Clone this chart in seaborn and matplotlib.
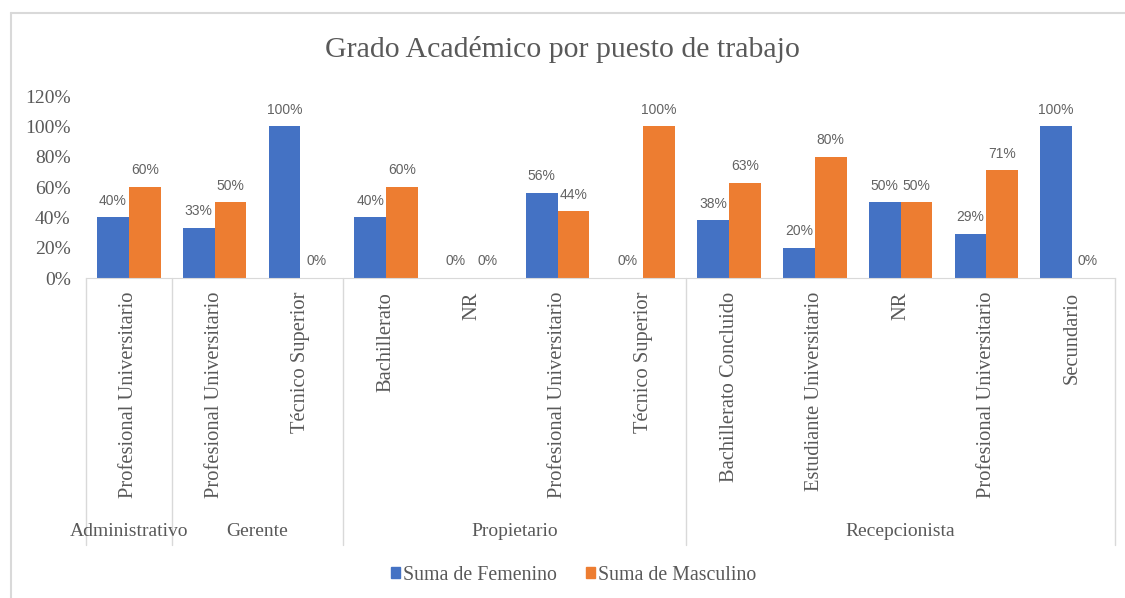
import pandas as pd
import matplotlib
matplotlib.use('Agg')
import matplotlib.pyplot as plt
import matplotlib.transforms as mtransforms
from matplotlib.lines import Line2D
from matplotlib.ticker import PercentFormatter
import seaborn as sns

# Data
puestos = ['Administrativo', 'Gerente', 'Propietario', 'Recepcionista']
grados = [
    ['Profesional Universitario'],
    ['Profesional Universitario', 'Técnico Superior'],
    ['Bachillerato', 'NR', 'Profesional Universitario', 'Técnico Superior'],
    ['Bachillerato Concluido', 'Estudiante Universitario', 'NR',
     'Profesional Universitario', 'Secundario'],
]
femenino = [0.40, 0.33, 1.00, 0.40, 0.00, 0.56, 0.00, 0.38, 0.20, 0.50, 0.29, 1.00]
masculino = [0.60, 0.50, 0.00, 0.60, 0.00, 0.44, 1.00, 0.63, 0.80, 0.50, 0.71, 0.00]
series = ['Suma de Femenino', 'Suma de Masculino']
colores = ['#4472C4', '#ED7D31']

# Build a long table with unique category keys
keys, labels = [], []
for p, gs in zip(puestos, grados):
    for g in gs:
        keys.append(p + '|' + g)
        labels.append(g)
df = pd.DataFrame({'cat': keys * 2,
                   'serie': [series[0]] * len(keys) + [series[1]] * len(keys),
                   'valor': femenino + masculino})

sns.set_style('white')
plt.rcParams['font.family'] = ['Liberation Serif', 'DejaVu Serif']
grey = '#595959'

fig = plt.figure(figsize=(11.25, 5.98), dpi=100)
ax = fig.add_axes([0.0764, 0.535, 0.9147, 0.3044])
sns.barplot(data=df, x='cat', y='valor', hue='serie', order=keys,
            hue_order=series, palette=colores, width=0.74, ax=ax,
            legend=False, saturation=1, linewidth=0)

ax.set_ylim(0, 1.2)
ax.set_xlim(-0.5, len(keys) - 0.5)
ax.set_yticks([i / 5 for i in range(7)])
ax.yaxis.set_major_formatter(PercentFormatter(1.0, decimals=0))
ax.tick_params(axis='y', labelsize=14, labelcolor=grey, length=0, pad=11)
ax.set_xticks([])
ax.set_xlabel('')
ax.set_ylabel('')
for s in ['left', 'right', 'top']:
    ax.spines[s].set_visible(False)
ax.spines['bottom'].set_color('#d9d9d9')

# data labels
for cont in ax.containers:
    ax.bar_label(cont, labels=[f'{v * 100:.0f}%' for v in cont.datavalues],
                 padding=7, fontsize=10, color='#636363',
                 family=['Liberation Sans', 'DejaVu Sans'])

# hierarchical category axis
tr = mtransforms.blended_transform_factory(ax.transData, fig.transFigure)
for i, lab in enumerate(labels):
    ax.text(i, 0.512, lab, transform=tr, rotation=90, ha='center', va='top',
            fontsize=14.8, color=grey)
bounds = [-0.5]
for gs in grados:
    bounds.append(bounds[-1] + len(gs))
for b in bounds:
    ax.add_line(Line2D([b, b], [0.535, 0.088], transform=tr, color='#d9d9d9',
                       lw=1, clip_on=False))
for p, a, b in zip(puestos, bounds[:-1], bounds[1:]):
    ax.text((a + b) / 2, 0.112, p, transform=tr, ha='center', va='center',
            fontsize=14, color=grey)

fig.suptitle('Grado Académico por puesto de trabajo', y=0.94, fontsize=21.5,
             color=grey)

handles = [plt.Rectangle((0, 0), 1, 1, color=c) for c in colores]
fig.legend(handles, series, loc='center', bbox_to_anchor=(0.51, 0.038),
           ncol=2, frameon=False, fontsize=14.3, handlelength=0.45,
           handleheight=0.5, handletextpad=0.15, columnspacing=1.5,
           labelcolor=grey)

# outer chart border (left and top)
fig.add_artist(Line2D([0.0098, 0.0098], [0.0, 0.978], color='#d9d9d9', lw=1.5))
fig.add_artist(Line2D([0.0098, 1.0], [0.978, 0.978], color='#d9d9d9', lw=1.5))

fig.savefig('out.png', dpi=100, facecolor='white')
